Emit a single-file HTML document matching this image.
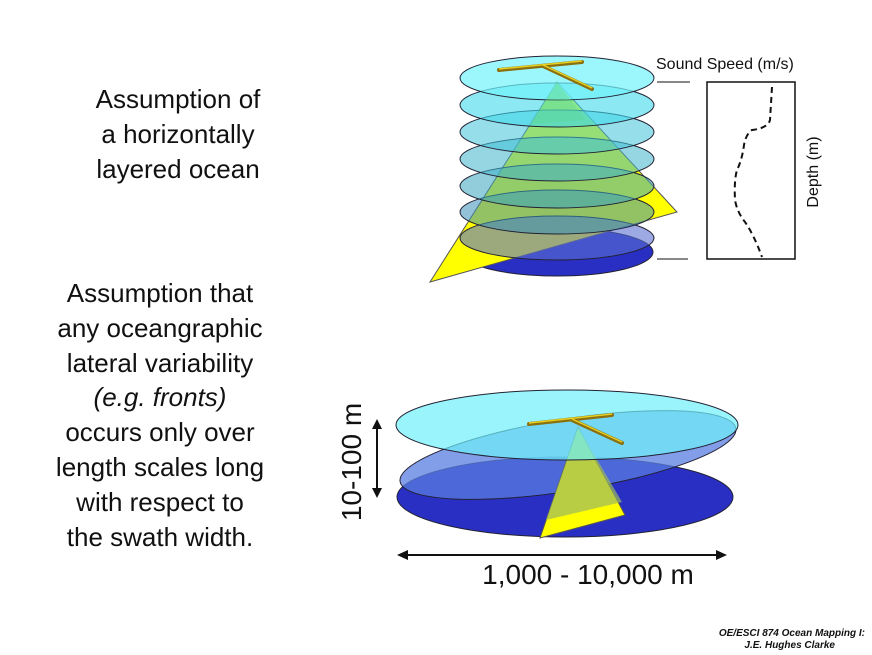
<!DOCTYPE html>
<html><head><meta charset="utf-8"><style>
html,body{margin:0;padding:0;background:#fff;}
svg{display:block;}
text{font-family:"Liberation Sans",sans-serif;fill:#111;}
</style></head><body>
<svg width="872" height="655" viewBox="0 0 872 655">
<g font-size="26" text-anchor="middle">
<text x="178" y="108">Assumption of</text>
<text x="178" y="143">a horizontally</text>
<text x="178" y="178">layered ocean</text>
<text x="160" y="302">Assumption  that</text>
<text x="160" y="337">any oceangraphic</text>
<text x="160" y="372">lateral variability</text>
<text x="160" y="406" font-style="italic">(e.g. fronts)</text>
<text x="160" y="441">occurs only over</text>
<text x="160" y="476">length scales long</text>
<text x="160" y="511">with respect to</text>
<text x="160" y="546">the swath width.</text>
</g>

<g stroke="#223" stroke-width="1">
<ellipse cx="557" cy="252" rx="96" ry="24" fill="#2a2fc4"/>
<polygon points="557,82 430,282 677,212" fill="#ffff00" stroke="#555"/>
<ellipse cx="557" cy="238" rx="97" ry="22" fill="#5a70d0" fill-opacity="0.6"/>
<ellipse cx="557" cy="212" rx="97" ry="22" fill="#3a8fb8" fill-opacity="0.55"/>
<ellipse cx="557" cy="186" rx="97" ry="22" fill="#38a4c0" fill-opacity="0.55"/>
<ellipse cx="557" cy="159" rx="97" ry="22" fill="#40b4cc" fill-opacity="0.55"/>
<ellipse cx="557" cy="132" rx="97" ry="22" fill="#40c4d8" fill-opacity="0.55"/>
<ellipse cx="557" cy="105" rx="97" ry="22" fill="#40d8ea" fill-opacity="0.6"/>
<ellipse cx="557" cy="78" rx="97" ry="22" fill="#70f4fb" fill-opacity="0.7"/>
<polygon points="557,82 530,124 586,120" fill="#60d890" fill-opacity="0.4" stroke="none"/>
<g stroke="#8a7010" stroke-width="4" stroke-linecap="round">
<line x1="499" y1="70" x2="582" y2="62"/><line x1="543" y1="66" x2="592" y2="89"/>
</g>
<g stroke="#e8d020" stroke-width="1.5"><line x1="499" y1="69" x2="582" y2="61"/><line x1="543" y1="65" x2="592" y2="88"/></g>
</g>

<g>
<text x="656" y="69" font-size="16">Sound Speed (m/s)</text>
<line x1="657" y1="82" x2="690" y2="82" stroke="#111"/>
<line x1="657" y1="259" x2="688" y2="259" stroke="#111"/>
<rect x="707" y="82" width="88" height="177" fill="#fff" stroke="#111" stroke-width="1.5"/>
<path d="M772,87 L770,120 Q768,128 752,130 Q746,134 744,145 Q742,160 737,170 Q734,180 735,200 Q737,212 745,222 Q754,235 762,257" fill="none" stroke="#111" stroke-width="2" stroke-dasharray="6,4"/>
<text transform="translate(818,172) rotate(-90)" font-size="16" text-anchor="middle">Depth (m)</text>
</g>

<g stroke="#223" stroke-width="1">
<ellipse cx="565" cy="497" rx="168" ry="40" fill="#2a2fc4"/>
<ellipse cx="568" cy="455" rx="170" ry="36" transform="rotate(-9 568 455)" fill="#5a7ee0" fill-opacity="0.75"/>
<polygon points="578,427 540,538 625,515" fill="#ffff00" stroke="#555"/>
<polygon points="578,427 546,520 622,502" fill="#9ab860" fill-opacity="0.7" stroke="none"/>
<ellipse cx="567" cy="425" rx="171" ry="35" fill="#6ef0fa" fill-opacity="0.7"/>
<g stroke="#8a7010" stroke-width="4" stroke-linecap="round">
<line x1="529" y1="424" x2="612" y2="415"/><line x1="572" y1="420" x2="622" y2="443"/></g>
<g stroke="#e8d020" stroke-width="1.5"><line x1="529" y1="423" x2="612" y2="414"/><line x1="572" y1="419" x2="622" y2="442"/></g>
</g>

<g stroke="#111" stroke-width="2" fill="#111">
<line x1="377" y1="424" x2="377" y2="493"/>
<polygon points="377,419 372,429 382,429" stroke="none"/>
<polygon points="377,498 372,488 382,488" stroke="none"/>
<line x1="402" y1="555" x2="722" y2="555"/>
<polygon points="397,555 408,550 408,560" stroke="none"/>
<polygon points="727,555 716,550 716,560" stroke="none"/>
</g>
<text transform="translate(361,462) rotate(-90)" font-size="28" text-anchor="middle">10-100 m</text>
<text x="588" y="584" font-size="28" text-anchor="middle">1,000 - 10,000 m</text>

<g font-size="10" font-style="italic" font-weight="bold" text-anchor="end">
<text x="865" y="636">OE/ESCI 874 Ocean Mapping I:</text>
<text x="835" y="648">J.E. Hughes Clarke</text>
</g>
</svg>
</body></html>
